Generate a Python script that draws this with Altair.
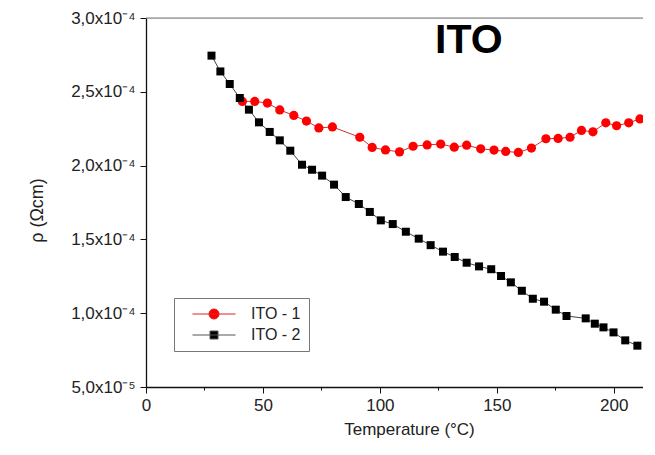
import altair as alt
import pandas as pd

# ITO - 1 (red circles): temperature (°C), resistivity (x1e-4 Ohm cm)
temp_ito1 = [41.2, 46.5, 51.9, 57.2, 63.2, 68.6, 73.9, 79.7, 91.4, 96.7, 102.4,
             108.4, 114.2, 120.2, 126.0, 131.8, 137.1, 143.1, 148.8, 153.8, 159.2,
             164.8, 171.0, 176.2, 181.3, 186.2, 191.1, 196.6, 201.2, 206.4, 211.2]
rho_ito1 = [2.435, 2.435, 2.424, 2.377, 2.340, 2.302, 2.255, 2.262, 2.192, 2.123, 2.106,
            2.093, 2.131, 2.140, 2.146, 2.125, 2.138, 2.114, 2.105, 2.096, 2.089,
            2.119, 2.182, 2.184, 2.192, 2.238, 2.229, 2.290, 2.270, 2.290, 2.316]

# ITO - 2 (black squares)
temp_ito2 = [28.0, 31.8, 35.8, 40.1, 44.0, 48.3, 52.9, 57.2, 61.7, 66.7, 71.0, 75.3,
             80.4, 85.4, 91.0, 95.7, 100.4, 105.5, 111.1, 116.6, 121.7, 127.0, 132.0,
             137.1, 142.4, 147.6, 151.8, 156.0, 160.7, 165.4, 170.2, 175.2, 179.8,
             188.0, 191.9, 195.6, 199.9, 204.9, 210.1]
rho_ito2 = [2.745, 2.638, 2.553, 2.458, 2.379, 2.293, 2.228, 2.171, 2.101, 2.006, 1.972,
            1.932, 1.871, 1.787, 1.740, 1.686, 1.629, 1.604, 1.552, 1.505, 1.461, 1.417,
            1.381, 1.342, 1.317, 1.298, 1.252, 1.209, 1.152, 1.098, 1.078, 1.024, 0.981,
            0.965, 0.929, 0.904, 0.870, 0.816, 0.780]

series_names = ["ITO - 1", "ITO - 2"]
annotation = ["ITO"]
x_ticks = [0, 25, 50, 75, 100, 125, 150, 175, 200]
y_ticks = [0.5, 0.75, 1.0, 1.25, 1.5, 1.75, 2.0, 2.25, 2.5, 2.75, 3.0]
y_max = 3.0

df1 = pd.DataFrame({"T": temp_ito1, "rho": rho_ito1, "series": series_names[0]})
df2 = pd.DataFrame({"T": temp_ito2, "rho": rho_ito2, "series": series_names[1]})
df_all = pd.concat([df1, df2], ignore_index=True)
df_note = pd.DataFrame({"label": annotation})

FONT = "Liberation Sans"
x_scale = alt.Scale(domain=[0, 212.5], nice=False, zero=False)
y_scale = alt.Scale(domain=[0.5, y_max], nice=False, zero=False)

x_enc = alt.X(
    "T:Q",
    scale=x_scale,
    axis=alt.Axis(
        values=x_ticks,
        title="Temperature (°C)",
        titleX=263, titleY=47, titleBaseline="alphabetic",
        titleFont=FONT, titleFontSize=17, titleFontWeight="normal", titleColor="#222",
        labelExpr="datum.value % 50 === 0 ? datum.label : ''",
        labelFont=FONT, labelFontSize=17, labelColor="#222", labelPadding=4,
        tickSize={"condition": {"test": "datum.value % 50 === 0", "value": 6}, "value": 3},
        tickColor="#111", domainColor="#111", domainWidth=1.3, grid=False,
        labelFlush=False, labelOverlap=False,
    ),
)

y_label_expr = (
    "round(datum.value*100) % 50 === 0 ? "
    "(datum.value < 1 ? replace(format(datum.value*10, '.1f'), '.', ',') + 'x10\u207b\u2075' "
    ": replace(format(datum.value, '.1f'), '.', ',') + 'x10\u207b\u2074') : ''"
)

y_enc = alt.Y(
    "rho:Q",
    scale=y_scale,
    axis=alt.Axis(
        values=y_ticks,
        title="\u03c1 (\u03a9cm)",
        titleX=-109, titleY=192, titleBaseline="middle", titleAngle=-90,
        titleFont=FONT, titleFontSize=18, titleFontWeight="normal", titleColor="#222",
        labelExpr=y_label_expr,
        labelFont=FONT, labelFontSize=17, labelColor="#222", labelPadding=5,
        tickSize={"condition": {"test": "round(datum.value*100) % 50 === 0", "value": 6}, "value": 3},
        tickColor="#111", domainColor="#111", domainWidth=1.3, grid=False,
        labelFlush=False, labelOverlap=False,
    ),
)

top_frame = alt.Chart(df_note).mark_rule(color="#777777", strokeWidth=1).encode(
    y=alt.datum(y_max, scale=y_scale)
)

line1 = alt.Chart(df1).mark_line(color="#cc3333", strokeWidth=1).encode(x=x_enc, y=y_enc)
line2 = alt.Chart(df2).mark_line(color="#444444", strokeWidth=1).encode(x=x_enc, y=y_enc)
pts1 = alt.Chart(df1).mark_circle(color="#ff0000", size=85, opacity=1).encode(x=x_enc, y=y_enc)
pts2 = alt.Chart(df2).mark_square(color="#000000", size=64, opacity=1).encode(x=x_enc, y=y_enc)

path1 = "M-4.3,0H4.3M-1,0A1,1,0,1,1,1,0A1,1,0,1,1,-1,0Z"
path2 = "M-4.3,0H4.3M-0.8,-0.8H0.8V0.8H-0.8Z"

leg = alt.Legend(
    orient="none", legendX=28, legendY=280, title=None,
    strokeColor="#777777", fillColor="white", padding=8,
    symbolSize=100, symbolOffset=24, labelOffset=29,
    labelFontSize=16, labelFont=FONT, labelColor="#222",
    labelExpr="datum.label + '\u00a0\u00a0\u00a0\u00a0'",
    rowPadding=5, symbolStrokeWidth=1, symbolOpacity=1,
)

legend_layer = alt.Chart(df_all).mark_point(filled=True, opacity=0, size=100).encode(
    x=x_enc, y=y_enc,
    fill=alt.Fill("series:N", scale=alt.Scale(domain=series_names, range=["#ff0000", "#000000"]), legend=leg),
    stroke=alt.Stroke("series:N", scale=alt.Scale(domain=series_names, range=["#dd2222", "#555555"]), legend=leg),
    shape=alt.Shape("series:N", scale=alt.Scale(domain=series_names, range=[path1, path2]), legend=leg),
)

note = alt.Chart(df_note).mark_text(
    align="left", baseline="alphabetic", fontSize=41, font=FONT,
    fontWeight="bold", color="black",
).encode(x=alt.value(289), y=alt.value(34.5), text="label:N")

chart = alt.layer(top_frame, line1, line2, pts1, pts2, legend_layer, note).properties(
    width=497, height=369,
    autosize=alt.AutoSizeParams(type="none"),
    padding={"left": 138, "top": 10, "right": 0, "bottom": 52},
).configure_view(stroke=None).configure(background="white")

chart.save("out.html", embed_options={"renderer": "svg", "actions": False})
